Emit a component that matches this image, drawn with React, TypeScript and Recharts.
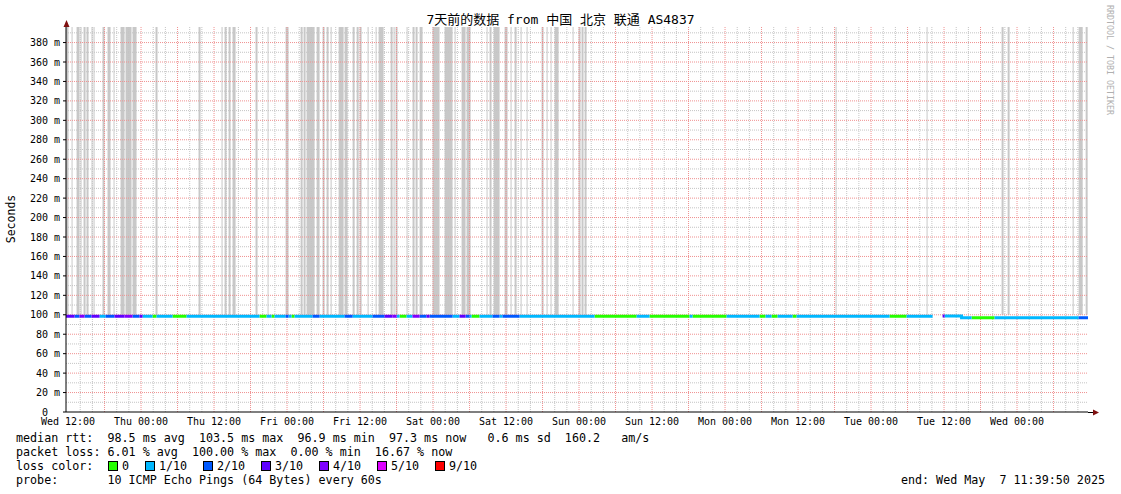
import { ComposedChart, Line, XAxis, YAxis, ReferenceArea, ReferenceLine } from 'recharts'

// hours relative to Wed 12:00; window runs from Wed 11:39:50 to Wed 11:39:50 (7 days)
const domainStart = -0.336
const domainEnd = 167.664

const xTickHours = [0, 12, 24, 36, 48, 60, 72, 84, 96, 108, 120, 132, 144, 156]
const xTickLabels = [
  'Wed 12:00', 'Thu 00:00', 'Thu 12:00', 'Fri 00:00', 'Fri 12:00', 'Sat 00:00', 'Sat 12:00',
  'Sun 00:00', 'Sun 12:00', 'Mon 00:00', 'Mon 12:00', 'Tue 00:00', 'Tue 12:00', 'Wed 00:00',
]
const yTicks = [0, 20, 40, 60, 80, 100, 120, 140, 160, 180, 200, 220, 240, 260, 280, 300, 320, 340, 360, 380]

const lossLevels = [0, 1, 2, 3, 4, 5, 9]
const lossLabels = ['0', '1/10', '2/10', '3/10', '4/10', '5/10', '9/10']
const lossColors = ['#26ff00', '#00b8ff', '#0059ff', '#5e00ff', '#7e00ff', '#dd00ff', '#ff0000']

// smoke columns that run off the top of the graph: [from hour, to hour]
const smokeColumns: [number, number][] = [
  [-0.33, 0.08], [0.58, 0.74], [1.4, 1.89], [2.05, 2.22], [2.55, 2.88], [3.04, 3.37], [3.86, 4.03],
  [4.19, 4.36], [5.67, 6.0], [6.49, 6.99], [7.48, 7.64], [8.63, 9.29], [9.45, 10.44], [10.6, 11.26],
  [14.38, 14.71], [21.45, 21.78], [25.23, 25.4], [25.73, 26.06], [26.39, 26.72], [27.04, 27.54],
  [30.82, 31.15], [32.8, 32.96], [35.76, 36.25], [38.23, 38.56], [38.72, 39.05], [39.21, 40.53],
  [40.86, 41.35], [41.84, 42.17], [42.5, 42.83], [43.16, 43.33], [44.48, 45.3], [45.46, 45.96],
  [46.78, 47.11], [47.44, 47.77], [47.93, 48.26], [49.24, 49.41], [50.56, 50.72], [51.05, 51.87],
  [53.02, 53.35], [53.51, 53.68], [53.84, 54.17], [55.65, 55.81], [56.63, 56.96], [57.13, 57.46],
  [57.79, 58.28], [59.92, 61.07], [61.9, 63.21], [63.54, 63.71], [64.69, 65.35], [65.51, 66.17],
  [68.8, 68.96], [69.29, 69.62], [69.95, 70.94], [71.76, 72.25], [72.74, 72.91], [73.4, 73.73],
  [74.39, 74.56], [75.38, 75.54], [77.84, 78.17], [78.66, 78.83], [79.32, 79.48], [79.98, 80.64],
  [82.94, 83.1], [83.92, 84.25], [84.41, 84.74], [84.91, 85.24], [126.17, 126.33], [141.13, 141.29],
  [153.46, 153.79], [154.45, 154.78], [165.14, 165.31], [166.13, 166.79], [167.28, 167.61],
]

// median rtt: [from hour, to hour, loss level, ms]
const medianSegments: [number, number, number, number][] = [
  [-0.33, 1.07, 3, 98.6], [1.07, 1.89, 2, 98.6], [1.89, 2.71, 4, 98.6], [2.71, 3.86, 2, 98.6],
  [3.86, 5.18, 3, 98.6], [5.18, 6.16, 1, 98.6], [6.16, 7.64, 2, 98.6], [7.64, 9.29, 3, 98.6],
  [9.29, 10.6, 4, 98.6], [10.6, 11.75, 2, 98.6], [11.75, 12.25, 3, 98.6], [12.25, 13.89, 1, 98.6],
  [13.89, 14.55, 0, 98.6], [14.55, 17.18, 1, 98.6], [17.18, 19.48, 0, 98.6], [19.48, 31.48, 1, 98.6],
  [31.48, 32.63, 0, 98.6], [32.63, 33.45, 1, 98.6], [33.45, 33.95, 0, 98.6], [33.95, 35.75, 1, 98.6],
  [35.75, 36.25, 2, 98.6], [36.25, 36.74, 1, 98.6], [36.74, 37.24, 0, 98.6], [37.24, 40.2, 1, 98.6],
  [40.2, 41.35, 2, 98.6], [41.35, 45.46, 1, 98.6], [45.46, 46.78, 2, 98.6], [46.78, 50.06, 1, 98.6],
  [50.06, 52.03, 2, 98.6], [52.03, 53.35, 3, 98.6], [53.35, 54.01, 4, 98.6], [54.01, 54.5, 1, 98.6],
  [54.5, 55.65, 0, 98.6], [55.65, 56.63, 1, 98.6], [56.63, 57.79, 4, 98.6], [57.79, 58.94, 2, 98.6],
  [58.94, 59.43, 3, 98.6], [59.43, 63.21, 2, 98.6], [63.21, 64.36, 1, 98.6], [64.36, 65.35, 3, 98.6],
  [65.35, 66.0, 2, 98.6], [66.0, 66.33, 1, 98.6], [66.33, 67.65, 0, 98.6], [67.65, 69.78, 1, 98.6],
  [69.78, 70.93, 2, 98.6], [70.93, 71.43, 1, 98.6], [71.43, 74.22, 2, 98.6], [74.22, 86.55, 1, 98.6],
  [86.55, 93.46, 0, 98.6], [93.46, 95.59, 1, 98.6], [95.59, 102.17, 0, 98.6], [102.17, 102.66, 1, 98.6],
  [102.66, 108.25, 0, 98.6], [108.25, 113.68, 1, 98.6], [113.68, 114.66, 0, 98.6], [114.66, 115.65, 1, 98.6],
  [115.65, 116.64, 0, 98.6], [116.64, 119.1, 1, 98.6], [119.1, 119.76, 0, 98.6], [119.76, 135.05, 1, 98.6],
  [135.05, 137.84, 0, 98.6], [137.84, 142.12, 1, 98.6],
  [143.76, 144.09, 3, 98.8], [144.09, 146.88, 1, 98.8], [146.88, 148.53, 1, 96.9], [148.53, 152.31, 0, 96.9],
  [152.31, 166.12, 1, 96.9], [166.12, 167.66, 2, 96.9],
]

const data = medianSegments.flatMap(([from, to, level, ms]) => [
  { h: from, ['l' + level]: ms },
  { h: to, ['l' + level]: ms },
])

const minorX: number[] = []
const majorX: number[] = []
for (let h = 2; h < domainEnd; h += 2) (h % 6 === 0 ? majorX : minorX).push(h)
const minorY: number[] = []
for (let v = 10; v < 396; v += 20) minorY.push(v)

const mono = '"DejaVu Sans Mono", "Noto Sans CJK SC", monospace'
const legendBoxX = [108, 145, 203, 261, 319, 377, 435]

const XTick = (props: any) => (
  <text x={props.x} y={props.y + 13} textAnchor="middle" fontFamily={mono} fontSize={10} fill="#000">
    {xTickLabels[props.index]}
  </text>
)

const YTick = (props: any) => {
  const v = props.payload.value
  return (
    <text x={v === 0 ? 48 : 60} y={props.y + 3.5} textAnchor="end" fontFamily={mono} fontSize={10} fill="#000">
      {v === 0 ? '0' : `${v} m`}
    </text>
  )
}

export default function App() {
  const line = (top: number, text: string) => (
    <div style={{ position: 'absolute', left: 16, top, lineHeight: '14px', whiteSpace: 'pre' }}>{text}</div>
  )
  return (
    <div style={{ position: 'fixed', left: 0, top: 0, width: 1121, height: 494, background: '#fff', fontFamily: mono, fontSize: 11.7, color: '#000' }}>
      <div style={{ position: 'absolute', left: 0, width: 1121, top: 11, textAlign: 'center', fontSize: 13, lineHeight: '18px' }}>
        7天前的数据 from 中国 北京 联通 AS4837
      </div>
      <ComposedChart width={1121} height={494} data={data} margin={{ top: 27, right: 33, bottom: 0, left: 0 }} style={{ position: 'absolute', left: 0, top: 0 }}>
        <XAxis dataKey="h" type="number" domain={[domainStart, domainEnd]} ticks={xTickHours} allowDataOverflow
          tick={<XTick />} tickLine={false} tickSize={0} tickMargin={0} axisLine={{ stroke: '#000' }} height={82} interval={0} />
        <YAxis type="number" domain={[0, 396]} ticks={yTicks} allowDataOverflow width={66}
          tick={<YTick />} tickLine={{ stroke: '#000' }} tickSize={3} axisLine={{ stroke: '#000' }} interval={0} />
        {smokeColumns.map(([a, b], i) => (
          <ReferenceArea key={'s' + i} x1={a} x2={b} y1={100} y2={396} fill="#c8c8c8" fillOpacity={1} stroke="none" ifOverflow="hidden" />
        ))}
        {minorX.map((h) => (
          <ReferenceLine key={'mx' + h} x={h} stroke="#c4c4c4" strokeDasharray="1 1" />
        ))}
        {minorY.map((v) => (
          <ReferenceLine key={'my' + v} y={v} stroke="#c4c4c4" strokeDasharray="1 1" />
        ))}
        {majorX.map((h) => (
          <ReferenceLine key={'Mx' + h} x={h} stroke="#f09090" strokeDasharray="1 1" />
        ))}
        {yTicks.slice(1).map((v) => (
          <ReferenceLine key={'My' + v} y={v} stroke="#f09090" strokeDasharray="1 1" />
        ))}
        {lossLevels.map((lvl, i) => (
          <Line key={lvl} dataKey={'l' + lvl} type="linear" stroke={lossColors[i]} strokeWidth={3} strokeLinecap="butt"
            dot={false} activeDot={false} connectNulls={false} isAnimationActive={false} />
        ))}
      </ComposedChart>
      <svg width={1121} height={494} style={{ position: 'absolute', left: 0, top: 0, pointerEvents: 'none' }}>
        <line x1={66.5} y1={27} x2={66.5} y2={22} stroke="#000" />
        <polygon points="63.5,27 66.5,20 69.5,27" fill="#7f1010" />
        <line x1={1088} y1={412.5} x2={1093} y2={412.5} stroke="#000" />
        <polygon points="1093,409.5 1099,412.5 1093,415.5" fill="#7f1010" />
        <text x={0} y={0} transform="translate(15,219) rotate(-90)" textAnchor="middle" fontFamily={mono} fontSize={11.5}>Seconds</text>
        <text x={0} y={0} transform="translate(1107,5) rotate(90)" textAnchor="start" fontFamily={mono} fontSize={8.3} fill="#b0b0b0">RRDTOOL / TOBI OETIKER</text>
      </svg>
      {line(431, 'median rtt:  98.5 ms avg  103.5 ms max  96.9 ms min  97.3 ms now   0.6 ms sd  160.2   am/s')}
      {line(445, 'packet loss: 6.01 % avg  100.00 % max  0.00 % min  16.67 % now')}
      {line(459, 'loss color:')}
      {lossLabels.map((lbl, i) => (
        <div key={lbl}>
          <div style={{ position: 'absolute', left: legendBoxX[i], top: 461, width: 8, height: 8, background: lossColors[i], border: '1px solid #000' }} />
          <div style={{ position: 'absolute', left: legendBoxX[i] + 14, top: 459, lineHeight: '14px' }}>{lbl}</div>
        </div>
      ))}
      {line(473, 'probe:       10 ICMP Echo Pings (64 Bytes) every 60s')}
      <div style={{ position: 'absolute', right: 16, top: 473, lineHeight: '14px', whiteSpace: 'pre' }}>end: Wed May  7 11:39:50 2025</div>
    </div>
  )
}
